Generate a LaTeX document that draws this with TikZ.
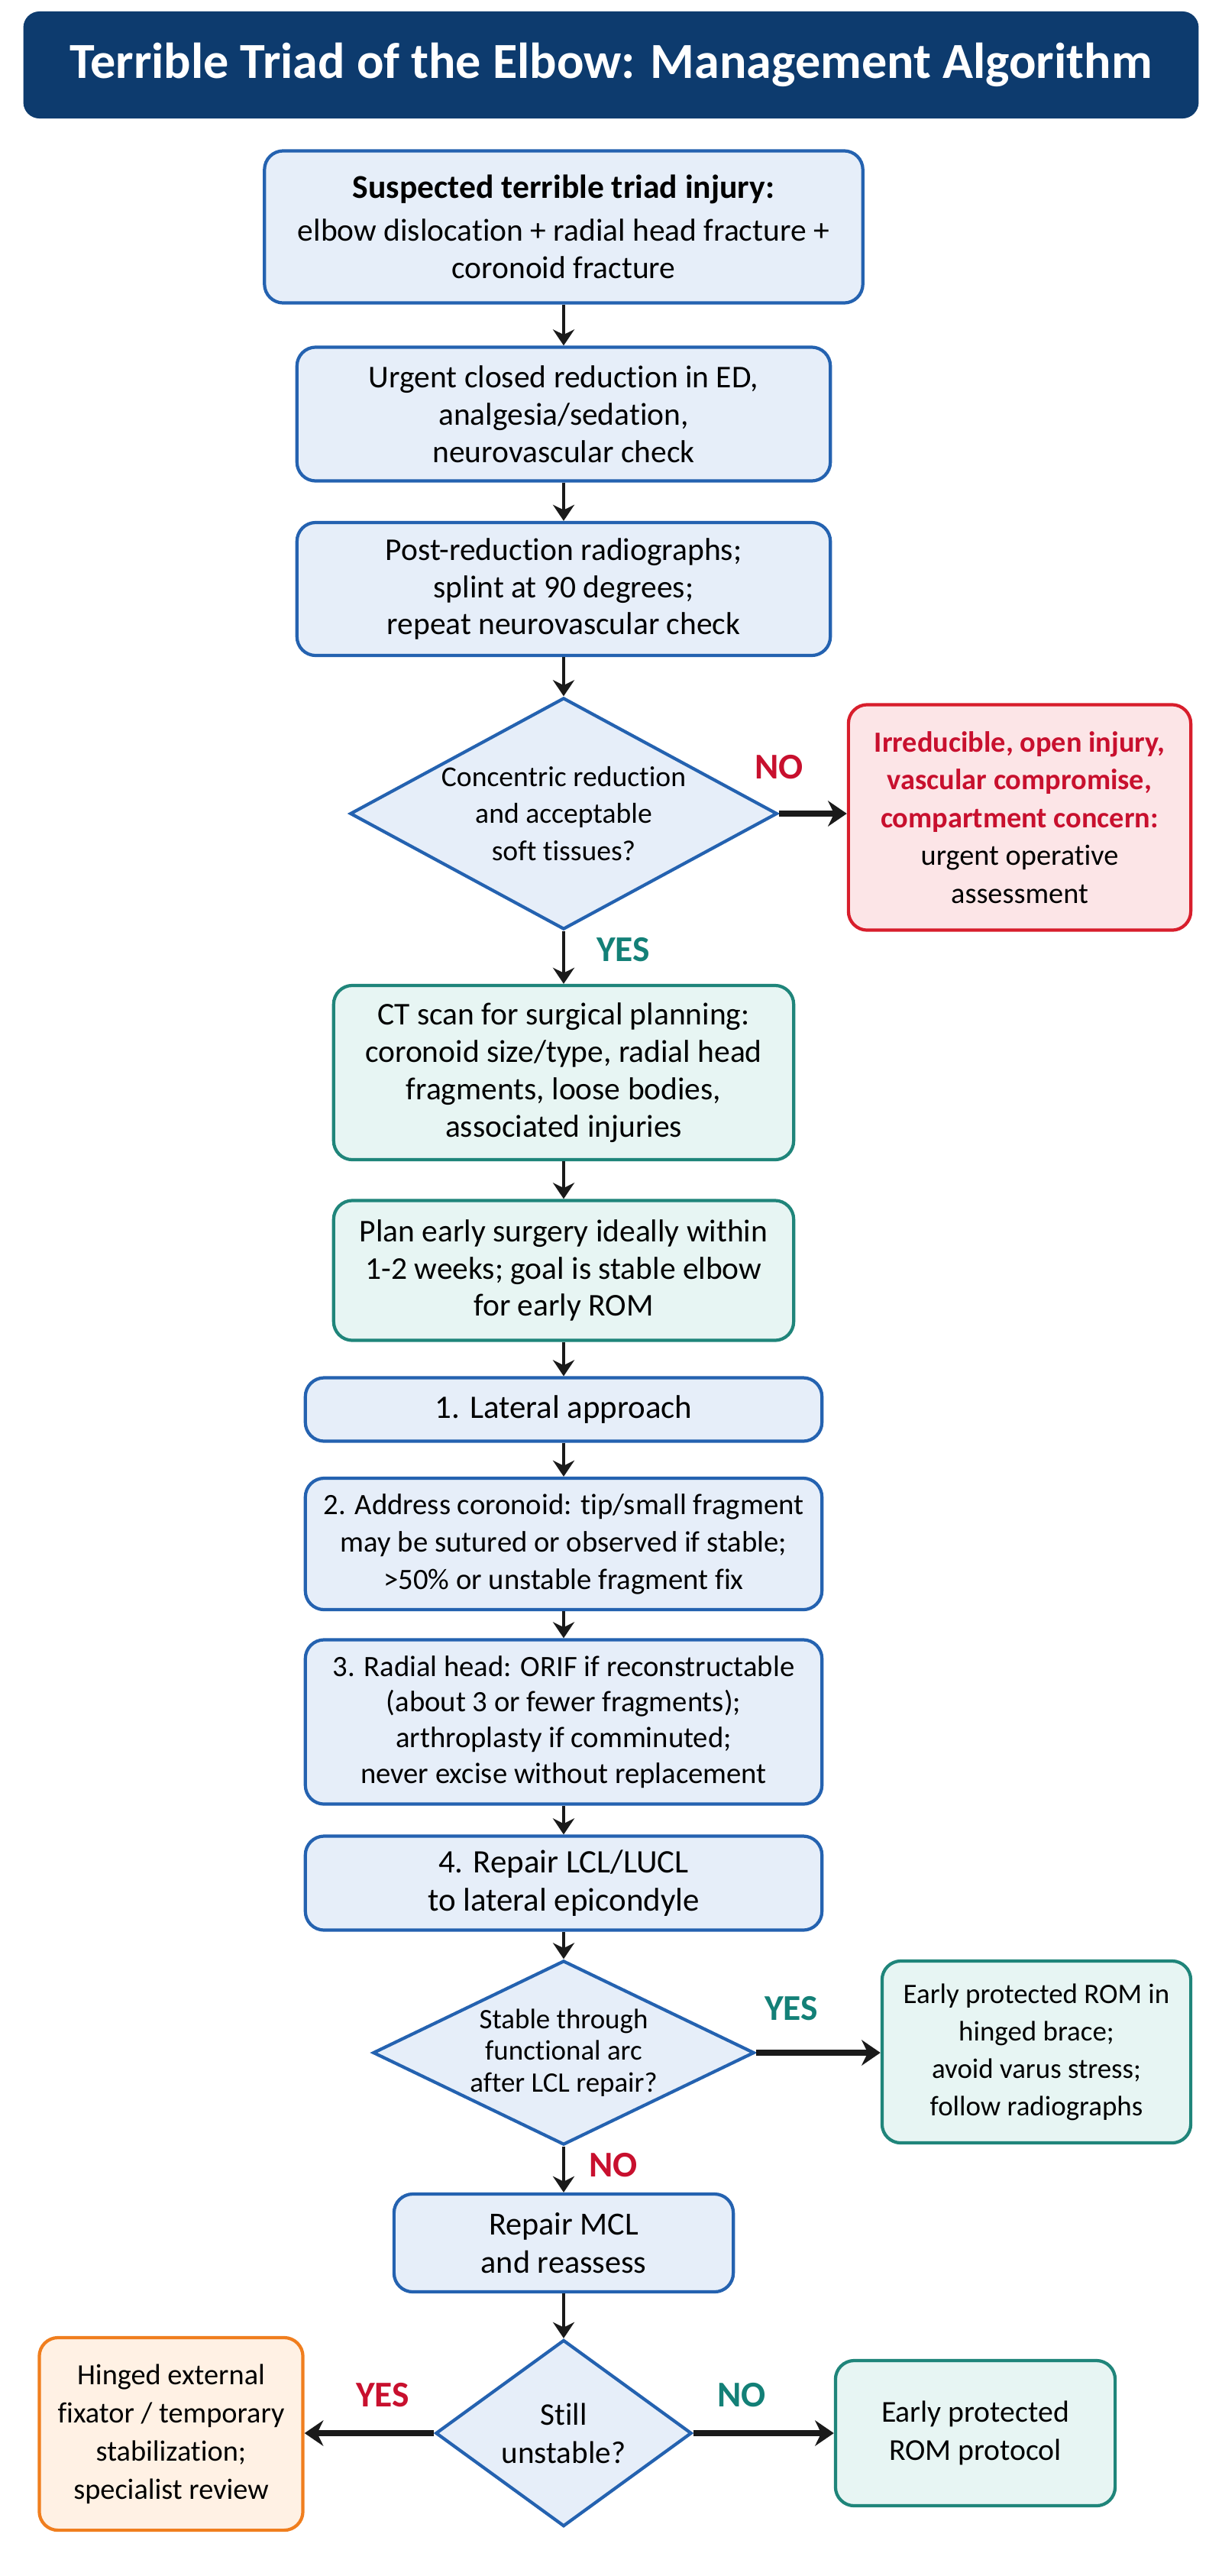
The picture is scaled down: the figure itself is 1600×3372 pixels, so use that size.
\documentclass[tikz,border=0pt]{standalone}
\usepackage{fontspec}
\setmainfont{Carlito}[Ligatures=NoCommon]
\usetikzlibrary{shapes.geometric, arrows.meta}

\definecolor{navy}{HTML}{0D3B6E}
\definecolor{bluedge}{HTML}{2462B0}
\definecolor{bluefill}{HTML}{E6EEF9}
\definecolor{tealedge}{HTML}{1F857A}
\definecolor{tealfill}{HTML}{E7F5F3}
\definecolor{rededge}{HTML}{D81E2C}
\definecolor{redfill}{HTML}{FCE5E7}
\definecolor{redtext}{HTML}{C8102E}
\definecolor{orgedge}{HTML}{F07E1E}
\definecolor{orgfill}{HTML}{FFF1E4}
\definecolor{yestext}{HTML}{138077}
\definecolor{arrowc}{HTML}{1A1A1A}

\begin{document}
\begin{tikzpicture}[x=0.01cm, y=-0.01cm,
    box/.style={rounded corners=7pt, line width=1.2pt, align=center, inner sep=2pt,
      font=\fontsize{11.8}{13.9}\selectfont},
    bluebox/.style={box, draw=bluedge, fill=bluefill},
    tealbox/.style={box, draw=tealedge, fill=tealfill},
    redbox/.style={box, draw=rededge, fill=redfill},
    orgbox/.style={box, draw=orgedge, fill=orgfill},
    dia/.style={diamond, draw=bluedge, fill=bluefill, line width=1.2pt, inner sep=0pt},
    diatext/.style={align=center, font=\fontsize{10.7}{13.9}\selectfont},
    arr/.style={-{Stealth[length=6pt,width=8pt]}, line width=1.2pt, draw=arrowc},
    harr/.style={-{Stealth[length=7pt,width=9.5pt]}, line width=2.2pt, draw=arrowc},
    yes/.style={text=yestext, font=\fontsize{13.5}{15}\selectfont\bfseries},
    no/.style={text=redtext, font=\fontsize{13.5}{15}\selectfont\bfseries}]

    % Page
    \useasboundingbox[fill=white] (0,0) rectangle (1600,3372);

    % Title
    \node[fill=navy, rounded corners=6pt, minimum width=15.38cm, minimum height=1.40cm,
      text=white, font=\fontsize{18.8}{20}\selectfont\bfseries] (title) at (800,85)
      {Terrible Triad of the Elbow: Management Algorithm};

    % Main column
    \node[bluebox, minimum width=7.83cm, minimum height=1.99cm] (injury) at (738,297)
      {{\fontsize{12.4}{14}\selectfont\bfseries Suspected terrible triad injury:}\\[2pt]
       elbow dislocation + radial head fracture +\\ coronoid fracture};
    \node[bluebox, minimum width=6.98cm, minimum height=1.75cm] (reduce) at (738,542)
      {Urgent closed reduction in ED,\\ analgesia/sedation,\\ neurovascular check};
    \node[bluebox, minimum width=6.98cm, minimum height=1.74cm] (postred) at (738,771)
      {Post-reduction radiographs;\\ splint at 90 degrees;\\ repeat neurovascular check};
    \node[dia, minimum width=5.59cm, minimum height=3.03cm,
      label={[diatext]center:Concentric reduction\\ and acceptable\\ soft tissues?}] (concentric) at (738,1065) {};
    \node[redbox, minimum width=4.48cm, minimum height=2.95cm,
      font=\fontsize{10.9}{14.1}\selectfont] (urgent) at (1335,1070)
      {\textcolor{redtext}{\bfseries Irreducible, open injury,}\\
       \textcolor{redtext}{\bfseries vascular compromise,}\\
       \textcolor{redtext}{\bfseries compartment concern:}\\
       urgent operative\\ assessment};
    \node[tealbox, minimum width=6.02cm, minimum height=2.28cm] (ct) at (738,1404)
      {CT scan for surgical planning:\\ coronoid size/type, radial head\\
       fragments, loose bodies,\\ associated injuries};
    \node[tealbox, minimum width=6.02cm, minimum height=1.83cm] (plan) at (738,1663)
      {Plan early surgery ideally within\\ 1-2 weeks; goal is stable elbow\\ for early ROM};

    % Surgical steps
    \node[bluebox, minimum width=6.76cm, minimum height=0.83cm,
      font=\fontsize{12.2}{14}\selectfont] (lateral) at (738,1845) {1. Lateral approach};
    \node[bluebox, minimum width=6.76cm, minimum height=1.72cm,
      font=\fontsize{11}{13.9}\selectfont] (coronoid) at (738,2021)
      {2. Address coronoid: tip/small fragment\\ may be sutured or observed if stable;\\
       >50\% or unstable fragment fix};
    \node[bluebox, minimum width=6.76cm, minimum height=2.15cm,
      font=\fontsize{11}{13.3}\selectfont] (radial) at (738,2254)
      {3. Radial head: ORIF if reconstructable\\ (about 3 or fewer fragments);\\
       arthroplasty if comminuted;\\ never excise without replacement};
    \node[bluebox, minimum width=6.76cm, minimum height=1.23cm,
      font=\fontsize{12.2}{14}\selectfont] (lcl) at (738,2465)
      {4. Repair LCL/LUCL\\ to lateral epicondyle};
    \node[dia, minimum width=4.99cm, minimum height=2.41cm,
      label={[diatext, font=\fontsize{10.5}{11.8}\selectfont]center:Stable through\\ functional arc\\ after LCL repair?}] (stable) at (738,2687) {};
    \node[tealbox, minimum width=4.04cm, minimum height=2.38cm,
      font=\fontsize{10.5}{13.9}\selectfont] (rombrace) at (1357,2686)
      {Early protected ROM in\\ hinged brace;\\ avoid varus stress;\\ follow radiographs};
    \node[bluebox, minimum width=4.44cm, minimum height=1.28cm,
      font=\fontsize{12}{14}\selectfont] (mcl) at (738,2936)
      {Repair MCL\\ and reassess};
    \node[dia, minimum width=3.35cm, minimum height=2.44cm,
      label={[diatext, font=\fontsize{11.7}{14.2}\selectfont]center:Still\\ unstable?}] (still) at (738,3185) {};
    \node[orgbox, minimum width=3.45cm, minimum height=2.52cm,
      font=\fontsize{10.9}{14.2}\selectfont] (fixator) at (224,3186)
      {Hinged external\\ fixator / temporary\\ stabilization;\\ specialist review};
    \node[tealbox, minimum width=3.66cm, minimum height=1.90cm,
      font=\fontsize{11.3}{14.2}\selectfont] (romprot) at (1277,3185)
      {Early protected\\ ROM protocol};

    % Arrows
    \draw[arr] (injury) -- (reduce);
    \draw[arr] (reduce) -- (postred);
    \draw[arr] (postred) -- (concentric);
    \draw[arr] (concentric) -- (ct);
    \draw[arr] (ct) -- (plan);
    \draw[arr] (plan) -- (lateral);
    \draw[arr] (lateral) -- (coronoid);
    \draw[arr] (coronoid) -- (radial);
    \draw[arr] (radial) -- (lcl);
    \draw[arr] (lcl) -- (stable);
    \draw[arr] (stable) -- (mcl);
    \draw[arr] (mcl) -- (still);
    \draw[harr] (concentric.east) -- (concentric.east -| urgent.west);
    \draw[harr] (stable.east) -- (stable.east -| rombrace.west);
    \draw[harr] (still.west) -- (fixator.east |- still.west);
    \draw[harr] (still.east) -- (romprot.west |- still.east);

    % Branch labels
    \node[no] (no1) at (1020,1004) {NO};
    \node[yes] (yes1) at (816,1243) {YES};
    \node[yes] (yes2) at (1036,2629) {YES};
    \node[no] (no2) at (803,2834) {NO};
    \node[no] (yes3) at (501,3135) {YES};
    \node[yes] (no3) at (971,3135) {NO};
\end{tikzpicture}
\end{document}
